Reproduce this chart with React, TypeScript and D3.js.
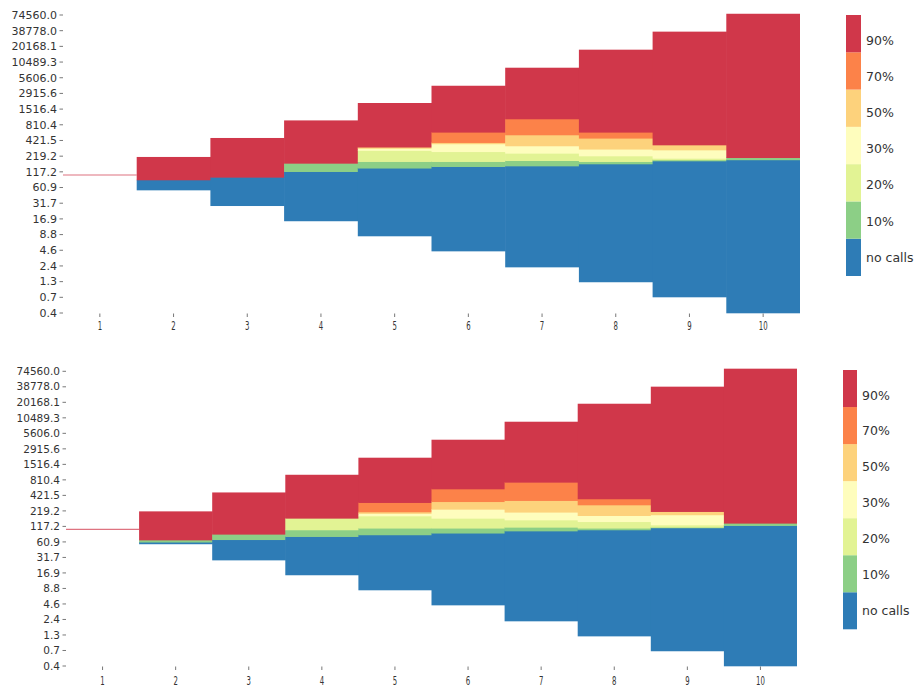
import React from "react";
import * as d3 from "d3";

// Level grid: level i sits at yTickLabels[i] (log-spaced bins)
const yTickLabels = [
  "0.4", "0.7", "1.3", "2.4", "4.6", "8.8", "16.9", "31.7", "60.9", "117.2",
  "219.2", "421.5", "810.4", "1516.4", "2915.6", "5606.0", "10489.3", "20168.1", "38778.0", "74560.0",
];
const columns = ["1", "2", "3", "4", "5", "6", "7", "8", "9", "10"];
const bandLabels = ["no calls", "10%", "20%", "30%", "50%", "70%", "90%"];
const bandColors = ["#2e7cb6", "#8ccf86", "#e2f394", "#fefdbd", "#fdd27c", "#fc8249", "#d0374a"];

// Upper panel: edges of each band per column, in grid levels
const upperMin = [8.8, 7.84, 6.84, 5.87, 4.91, 3.95, 2.93, 1.98, 1.02, 0];
const upper10 = [8.8, 8.48, 8.65, 9.01, 9.23, 9.33, 9.37, 9.5, 9.69, 9.76];
const upper20 = [8.8, 8.48, 8.65, 9.54, 9.65, 9.65, 9.71, 9.65, 9.76, 9.9];
const upper30 = [8.8, 8.48, 8.65, 9.54, 10.36, 10.28, 10.18, 10.01, 9.86, 9.9];
const upper50 = [8.8, 8.48, 8.65, 9.54, 10.49, 10.78, 10.65, 10.44, 10.39, 9.9];
const upper70 = [8.8, 8.48, 8.65, 9.54, 10.57, 10.86, 11.35, 11.14, 10.71, 9.9];
const upper90 = [8.8, 8.48, 8.65, 9.54, 10.57, 11.52, 12.37, 11.52, 10.71, 9.9];
const upperMax = [8.8, 9.93, 11.14, 12.26, 13.37, 14.47, 15.62, 16.77, 17.92, 19.06];

// Lower panel
const lowerMin = [8.81, 7.87, 6.83, 5.87, 4.9, 3.93, 2.9, 1.93, 0.97, 0];
const lower10 = [8.81, 7.98, 8.14, 8.34, 8.45, 8.56, 8.7, 8.77, 8.9, 9.05];
const lower20 = [8.81, 8.12, 8.49, 8.77, 8.88, 8.88, 8.94, 8.88, 8.94, 9.2];
const lower30 = [8.81, 8.12, 8.49, 9.52, 9.67, 9.52, 9.41, 9.3, 9.09, 9.2];
const lower50 = [8.81, 8.12, 8.49, 9.52, 9.83, 10.1, 9.91, 9.69, 9.74, 9.2];
const lower70 = [8.81, 8.12, 8.49, 9.52, 9.93, 10.59, 10.66, 10.38, 9.95, 9.2];
const lower90 = [8.81, 8.12, 8.49, 9.52, 10.53, 11.41, 11.84, 10.77, 9.95, 9.2];
const lowerMax = [8.81, 9.95, 11.17, 12.31, 13.41, 14.57, 15.73, 16.89, 17.99, 19.15];

const FONT = "'DejaVu Sans', sans-serif";

type PanelProps = {
  edges: number[][];
  x0: number;
  x1: number;
  yBottom: number;
  yTop: number;
  yFont: number;
  xLabelY: number;
  cbX: number;
  cbW: number;
  cbTop: number;
  cbBottom: number;
  cbLabelX: number;
};

function Panel(p: PanelProps) {
  const x = d3.scaleBand<string>().domain(columns).range([p.x0, p.x1]).padding(0);
  const y = d3.scaleLinear().domain([0, yTickLabels.length - 1]).range([p.yBottom, p.yTop]);
  const cb = d3.scaleLinear().domain([0, bandColors.length]).range([p.cbBottom, p.cbTop]);
  const bw = x.bandwidth();

  const cells: React.ReactNode[] = [];
  columns.forEach((c, j) => {
    const cx = x(c)!;
    const lo = p.edges[0][j];
    const hi = p.edges[p.edges.length - 1][j];
    if (hi - lo <= 0) {
      cells.push(
        <line key={`z${j}`} x1={cx} x2={cx + bw} y1={y(lo)} y2={y(lo)}
          stroke={bandColors[6]} strokeOpacity={0.7} strokeWidth={1.2} />
      );
      return;
    }
    const last = j === columns.length - 1;
    bandColors.forEach((col, k) => {
      const a = p.edges[k][j];
      const b = p.edges[k + 1][j];
      if (b - a <= 0) return;
      // slight overlap so neighbouring cells join without hairline seams
      cells.push(
        <rect key={`c${j}-${k}`} x={cx} width={bw + (last ? 0 : 0.6)} y={y(b) - 0.3}
          height={y(a) - y(b) + 0.6} fill={col} />
      );
    });
  });

  return (
    <g>
      {cells}
      {/* y axis */}
      {yTickLabels.map((t, i) => (
        <g key={t}>
          <line x1={p.x0 - 3.5} x2={p.x0} y1={y(i)} y2={y(i)} stroke="#555" strokeWidth={0.8} />
          <text x={p.x0 - 6} y={y(i)} dy="0.35em" textAnchor="end" fontSize={p.yFont}
            fill="#333" fontFamily={FONT}>{t}</text>
        </g>
      ))}
      {/* x axis */}
      {columns.map((c) => {
        const cx = x(c)! + bw / 2;
        return (
          <g key={c}>
            <line x1={cx} x2={cx} y1={p.yBottom + 0.5} y2={p.yBottom + 4} stroke="#555" strokeWidth={0.8} />
            <text transform={`translate(${cx},${p.xLabelY}) scale(0.58,1)`} dy="0.35em" textAnchor="middle"
              fontSize={12} fill="#333" fontFamily={FONT}>{c}</text>
          </g>
        );
      })}
      {/* colour bar */}
      {bandColors.map((col, k) => (
        <rect key={col} x={p.cbX} width={p.cbW} y={cb(k + 1)} height={cb(k) - cb(k + 1)} fill={col} />
      ))}
      {bandLabels.map((l, k) => (
        <text key={l} x={p.cbLabelX} y={cb(0.5 + k * 0.97)} dy="0.35em" fontSize={12.5}
          fill="#333" fontFamily={FONT}>{l}</text>
      ))}
    </g>
  );
}

export default function App() {
  const upperEdges = [upperMin, upper10, upper20, upper30, upper50, upper70, upper90, upperMax];
  const lowerEdges = [lowerMin, lower10, lower20, lower30, lower50, lower70, lower90, lowerMax];
  return (
    <svg width={917} height={688} style={{ position: "absolute", left: 0, top: 0, background: "#fff" }}>
      <rect width={917} height={688} fill="#fff" />
      <Panel edges={upperEdges} x0={63} x1={800} yBottom={313} yTop={15} yFont={11} xLabelY={326}
        cbX={846} cbW={15} cbTop={15} cbBottom={276} cbLabelX={866} />
      <Panel edges={lowerEdges} x0={66} x1={797} yBottom={666} yTop={371.3} yFont={10.5} xLabelY={681}
        cbX={843} cbW={14} cbTop={370} cbBottom={629.3} cbLabelX={862} />
    </svg>
  );
}
